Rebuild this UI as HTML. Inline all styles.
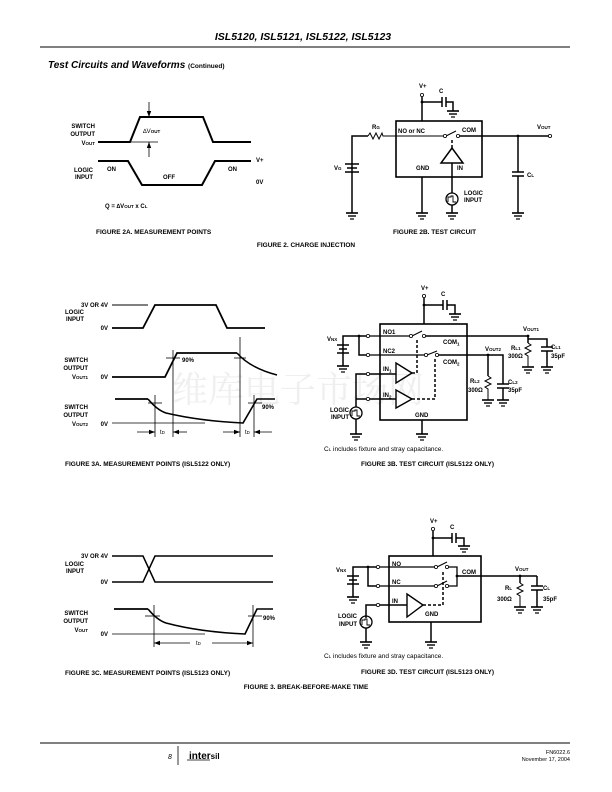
<!DOCTYPE html>
<html><head><meta charset="utf-8"><style>
html,body{margin:0;padding:0;background:#fff}
svg{display:block}
text{font-family:"Liberation Sans",Arial,sans-serif;font-weight:bold;font-size:6px;fill:#000}
.r{text-anchor:end}
.n{font-weight:normal}
.cap{font-size:6.5px}
</style></head><body>
<svg width="612" height="792" viewBox="0 0 612 792" xmlns="http://www.w3.org/2000/svg">
<defs>
<g id="gnd"><line x1="-6" y1="0" x2="6" y2="0" stroke="#000" stroke-width="1.6"/><line x1="-4" y1="3" x2="4" y2="3" stroke="#000" stroke-width="1.4"/><line x1="-2" y1="6" x2="2" y2="6" stroke="#000" stroke-width="1.2"/></g>
<marker id="ar" markerWidth="6" markerHeight="6" refX="6" refY="3" orient="auto" markerUnits="userSpaceOnUse"><path d="M0,0.8 L6,3 L0,5.2z" fill="#000"/></marker>
</defs>

<!-- watermark -->
<text x="172" y="402" style="font-family:'Noto Serif CJK SC','Liberation Serif',serif;font-weight:normal;font-size:36px;fill:#efefef">维库电子市场网</text>

<!-- header -->
<text x="303" y="40" text-anchor="middle" style="font-size:10.5px;font-style:italic">ISL5120, ISL5121, ISL5122, ISL5123</text>
<line x1="40" y1="47" x2="570" y2="47" stroke="#000" stroke-width="1"/>
<text x="48" y="68" style="font-size:10px;font-style:italic">Test Circuits and Waveforms <tspan style="font-size:6.5px;font-style:normal">(Continued)</tspan></text>

<g fill="none" stroke="#000">
<!-- FIG 2A -->
<polyline points="98,142 130,142 140,117 203,117 213,142 251,142" stroke-width="2"/>
<line x1="130" y1="142" x2="158" y2="142" stroke-width="0.8"/>
<line x1="149" y1="102" x2="149" y2="117" stroke-width="0.8" marker-end="url(#ar)"/>
<line x1="149" y1="157" x2="149" y2="142" stroke-width="0.8" marker-end="url(#ar)"/>
<polyline points="98,161 128,161 142,185 202,185 215,161 251,161" stroke-width="2"/>

<!-- FIG 2B -->
<rect x="396" y="121" width="86" height="56" stroke-width="1.6"/>
<line x1="422" y1="97" x2="422" y2="121" stroke-width="1.5"/>
<polyline points="422,102 442,102" stroke-width="1.5"/>
<line x1="442" y1="97" x2="442" y2="107" stroke-width="1.5"/><line x1="446" y1="97" x2="446" y2="107" stroke-width="1.5"/>
<polyline points="446,102 453,102 453,111" stroke-width="1.5"/>
<polyline points="352,213 352,136 368,136" stroke-width="1.5"/>
<polyline points="368,136 370,133 373,139 376,133 379,139 382,133 383,136 396,136" stroke-width="1"/>
<line x1="396" y1="136" x2="444" y2="136" stroke-width="1"/>
<line x1="446" y1="136" x2="456" y2="131" stroke-width="1"/>
<line x1="459" y1="136" x2="550" y2="136" stroke-width="1.5"/>
<line x1="452" y1="140" x2="452" y2="148" stroke-width="1.5" stroke-dasharray="3,2"/>
<polygon points="452,148 441,163 463,163" stroke-width="1.5"/>
<line x1="452" y1="163" x2="452" y2="193" stroke-width="1.5"/>
<line x1="452" y1="205" x2="452" y2="213" stroke-width="1.5"/>
<circle cx="452" cy="199" r="6" stroke-width="1.3"/>
<polyline points="448,202 448,197 451,197 451,196 453,196 453,202 456,202" stroke-width="0.9"/>
<line x1="422" y1="177" x2="422" y2="213" stroke-width="1.5"/>
<line x1="518" y1="136" x2="518" y2="172" stroke-width="1.5"/>
<line x1="518" y1="176" x2="518" y2="213" stroke-width="1.5"/>
<line x1="512" y1="172" x2="524" y2="172" stroke-width="1.5"/><line x1="512" y1="176" x2="524" y2="176" stroke-width="1.5"/>
<line x1="345" y1="164" x2="359" y2="164" stroke-width="1.5"/><line x1="347" y1="168" x2="357" y2="168" stroke-width="1.5"/><line x1="345" y1="172" x2="359" y2="172" stroke-width="1.5"/>

<!-- FIG 3A waveforms -->
<line x1="112" y1="305" x2="148" y2="305" stroke-width="1"/>
<polyline points="112,328 143,328 155,305 216,305 227,328 265,328" stroke-width="1.8"/>
<polyline points="112,377 165,377 177,353 237,353" stroke-width="1.8"/>
<path d="M237,353 Q250,368 277,375" stroke-width="1.5"/>
<line x1="173" y1="350" x2="173" y2="437" stroke-width="0.8"/>
<line x1="240" y1="337" x2="240" y2="437" stroke-width="0.8"/>
<line x1="166" y1="358" x2="180" y2="358" stroke-width="0.8"/>
<line x1="234" y1="358" x2="246" y2="358" stroke-width="0.8"/>
<polyline points="115,399 148,399" stroke-width="1.8"/>
<path d="M148,399 Q157,410 166,413 Q200,421 243,423 L257,399 L275,399" stroke-width="1.6"/>
<line x1="112" y1="423" x2="205" y2="423" stroke-width="0.8"/>
<line x1="155" y1="395" x2="155" y2="437" stroke-width="0.8"/>
<line x1="254" y1="395" x2="254" y2="437" stroke-width="0.8"/>
<line x1="148" y1="403" x2="162" y2="403" stroke-width="0.8"/>
<line x1="248" y1="403" x2="262" y2="403" stroke-width="0.8"/>
<line x1="137" y1="432" x2="155" y2="432" stroke-width="0.8" marker-end="url(#ar)"/>
<line x1="187" y1="432" x2="173" y2="432" stroke-width="0.8" marker-end="url(#ar)"/>
<line x1="223" y1="432" x2="240" y2="432" stroke-width="0.8" marker-end="url(#ar)"/>
<line x1="272" y1="432" x2="254" y2="432" stroke-width="0.8" marker-end="url(#ar)"/>

<!-- FIG 3B -->
<rect x="380" y="324" width="87" height="96" stroke-width="1.6"/>
<line x1="424" y1="298" x2="424" y2="324" stroke-width="1.5"/>
<line x1="424" y1="305" x2="443" y2="305" stroke-width="1.5"/>
<line x1="443" y1="300" x2="443" y2="310" stroke-width="1.5"/><line x1="447" y1="300" x2="447" y2="310" stroke-width="1.5"/>
<polyline points="447,305 455,305 455,314" stroke-width="1.5"/>
<polyline points="343,366 343,336 366,336" stroke-width="1.5"/>
<line x1="337" y1="345" x2="349" y2="345" stroke-width="1.5"/><line x1="339" y1="349" x2="347" y2="349" stroke-width="1.5"/><line x1="337" y1="353" x2="349" y2="353" stroke-width="1.5"/>
<polyline points="359,336 359,355 366,355" stroke-width="1.5"/>
<line x1="370" y1="336" x2="410" y2="336" stroke-width="1.3"/>
<line x1="412" y1="336" x2="422" y2="331" stroke-width="1"/>
<line x1="425" y1="336" x2="528" y2="336" stroke-width="1.5"/>
<line x1="370" y1="355" x2="425" y2="355" stroke-width="1.3"/>
<line x1="427" y1="355" x2="437" y2="351" stroke-width="1"/>
<polyline points="438,355 503,355 503,384" stroke-width="1.5"/>
<line x1="503" y1="388" x2="503" y2="400" stroke-width="1.5"/>
<line x1="497" y1="384" x2="509" y2="384" stroke-width="1.5"/><line x1="497" y1="388" x2="509" y2="388" stroke-width="1.5"/>
<line x1="488" y1="355" x2="488" y2="376" stroke-width="1.5"/>
<polyline points="488,376 491,378 485,381 491,384 485,387 488,389 488,400" stroke-width="1"/>
<line x1="528" y1="336" x2="528" y2="343" stroke-width="1.5"/>
<polyline points="528,343 531,345 525,348 531,351 525,354 528,356 528,367" stroke-width="1"/>
<polyline points="528,339 547,339 547,347" stroke-width="1.5"/>
<line x1="547" y1="351" x2="547" y2="367" stroke-width="1.5"/>
<line x1="541" y1="347" x2="553" y2="347" stroke-width="1.5"/><line x1="541" y1="351" x2="553" y2="351" stroke-width="1.5"/>
<polygon points="396,363 412,373 396,383" stroke-width="1.4"/>
<polygon points="396,390 412,399 396,408" stroke-width="1.4"/>
<polyline points="356,407 356,374 366,374" stroke-width="1.5"/>
<line x1="370" y1="374" x2="396" y2="374" stroke-width="1.5"/>
<line x1="356" y1="399" x2="366" y2="399" stroke-width="1.5"/>
<line x1="370" y1="399" x2="396" y2="399" stroke-width="1.5"/>
<line x1="356" y1="419" x2="356" y2="434" stroke-width="1.5"/>
<circle cx="356" cy="413" r="6" stroke-width="1.3"/>
<polyline points="352,416 352,411 355,411 355,410 357,410 357,416 360,416" stroke-width="0.9"/>
<polyline points="412,373 417,373 417,340" stroke-width="1.5" stroke-dasharray="3,2"/>
<polyline points="412,399 435,399 435,358" stroke-width="1.5" stroke-dasharray="3,2"/>
<line x1="422" y1="420" x2="422" y2="434" stroke-width="1.5"/>

<!-- FIG 3C -->
<polyline points="112,556 143,556 155,582 273,582" stroke-width="1.5"/>
<polyline points="112,582 143,582 155,556 273,556" stroke-width="1.5"/>
<line x1="114" y1="609" x2="148" y2="609" stroke-width="1.8"/>
<path d="M148,609 Q157,620 166,623 Q200,632 245,634 L257,609 L273,609" stroke-width="1.6"/>
<line x1="112" y1="634" x2="205" y2="634" stroke-width="0.8"/>
<line x1="154" y1="605" x2="154" y2="647" stroke-width="0.8"/>
<line x1="253" y1="605" x2="253" y2="647" stroke-width="0.8"/>
<line x1="145" y1="616" x2="160" y2="616" stroke-width="0.8"/>
<line x1="248" y1="616" x2="262" y2="616" stroke-width="0.8"/>
<line x1="190" y1="643" x2="154" y2="643" stroke-width="0.8" marker-end="url(#ar)"/>
<line x1="212" y1="643" x2="253" y2="643" stroke-width="0.8" marker-end="url(#ar)"/>

<!-- FIG 3D -->
<rect x="389" y="556" width="92" height="66" stroke-width="1.6"/>
<line x1="433" y1="531" x2="433" y2="556" stroke-width="1.5"/>
<line x1="433" y1="538" x2="452" y2="538" stroke-width="1.5"/>
<line x1="452" y1="533" x2="452" y2="543" stroke-width="1.5"/><line x1="456" y1="533" x2="456" y2="543" stroke-width="1.5"/>
<polyline points="456,538 464,538 464,546" stroke-width="1.5"/>
<polyline points="353,597 353,567 376,567" stroke-width="1.5"/>
<line x1="347" y1="576" x2="359" y2="576" stroke-width="1.5"/><line x1="349" y1="580" x2="357" y2="580" stroke-width="1.5"/><line x1="347" y1="584" x2="359" y2="584" stroke-width="1.5"/>
<polyline points="368,567 368,586 376,586" stroke-width="1.5"/>
<line x1="380" y1="567" x2="435" y2="567" stroke-width="1.3"/>
<line x1="380" y1="586" x2="435" y2="586" stroke-width="1.3"/>
<line x1="437" y1="567" x2="447" y2="562" stroke-width="1"/>
<line x1="437" y1="586" x2="447" y2="581" stroke-width="1"/>
<polyline points="448,567 457,567 457,586 448,586" stroke-width="1.3"/>
<line x1="457" y1="576" x2="537" y2="576" stroke-width="1.5"/>
<line x1="537" y1="576" x2="537" y2="586" stroke-width="1.5"/>
<line x1="531" y1="586" x2="543" y2="586" stroke-width="1.5"/><line x1="531" y1="590" x2="543" y2="590" stroke-width="1.5"/>
<line x1="537" y1="590" x2="537" y2="607" stroke-width="1.5"/>
<line x1="520" y1="576" x2="520" y2="583" stroke-width="1.5"/>
<polyline points="520,583 523,585 517,588 523,591 517,594 520,596 520,607" stroke-width="1"/>
<polygon points="407,594 423,605 407,617" stroke-width="1.4"/>
<polyline points="366,618 366,605 376,605" stroke-width="1.5"/>
<line x1="380" y1="605" x2="407" y2="605" stroke-width="1.5"/>
<line x1="366" y1="628" x2="366" y2="642" stroke-width="1.5"/>
<circle cx="366" cy="622" r="6" stroke-width="1.3"/>
<polyline points="362,625 362,620 365,620 365,619 367,619 367,625 370,625" stroke-width="0.9"/>
<polyline points="423,605 443,605 443,572" stroke-width="1.5" stroke-dasharray="3,2"/>
<line x1="431" y1="622" x2="431" y2="642" stroke-width="1.5"/>

<!-- footer -->
<line x1="40" y1="743" x2="570" y2="743" stroke-width="1"/>
<line x1="178" y1="746" x2="178" y2="765" stroke-width="0.8"/>
<line x1="187" y1="760" x2="210" y2="760" stroke-width="0.8"/>
</g>

<!-- small circles -->
<g fill="#fff" stroke="#000" stroke-width="0.8">
<circle cx="422" cy="95" r="1.6"/><circle cx="445" cy="136" r="1.6"/><circle cx="458" cy="136" r="1.6"/><circle cx="550" cy="136" r="1.6"/>
<circle cx="424" cy="296" r="1.6"/><circle cx="368" cy="336" r="1.6"/><circle cx="368" cy="355" r="1.6"/><circle cx="411" cy="336" r="1.6"/><circle cx="424" cy="336" r="1.6"/><circle cx="426" cy="355" r="1.6"/><circle cx="437" cy="355" r="1.6"/><circle cx="368" cy="374" r="1.6"/><circle cx="368" cy="399" r="1.6"/>
<circle cx="433" cy="529" r="1.6"/><circle cx="378" cy="567" r="1.6"/><circle cx="378" cy="586" r="1.6"/><circle cx="436" cy="567" r="1.6"/><circle cx="447" cy="567" r="1.6"/><circle cx="436" cy="586" r="1.6"/><circle cx="447" cy="586" r="1.6"/><circle cx="378" cy="605" r="1.6"/>
</g>
<g fill="#000">
<circle cx="422" cy="102" r="1.4"/><circle cx="518" cy="136" r="1.4"/>
<circle cx="424" cy="305" r="1.4"/><circle cx="359" cy="336" r="1.4"/><circle cx="528" cy="336" r="1.4"/><circle cx="488" cy="355" r="1.4"/>
<circle cx="433" cy="538" r="1.4"/><circle cx="368" cy="567" r="1.4"/><circle cx="520" cy="576" r="1.4"/><circle cx="457" cy="576" r="1.4"/>
</g>

<!-- grounds -->
<use href="#gnd" x="453" y="111"/><use href="#gnd" x="352" y="213"/><use href="#gnd" x="422" y="213"/><use href="#gnd" x="452" y="213"/><use href="#gnd" x="518" y="213"/>
<use href="#gnd" x="455" y="314"/><use href="#gnd" x="343" y="366"/><use href="#gnd" x="528" y="367"/><use href="#gnd" x="547" y="367"/><use href="#gnd" x="488" y="400"/><use href="#gnd" x="503" y="400"/><use href="#gnd" x="356" y="434"/><use href="#gnd" x="422" y="434"/>
<use href="#gnd" x="464" y="546"/><use href="#gnd" x="353" y="597"/><use href="#gnd" x="520" y="607"/><use href="#gnd" x="537" y="607"/><use href="#gnd" x="366" y="642"/><use href="#gnd" x="431" y="642"/>

<!-- FIG 2A text -->
<text class="r" x="95" y="128">SWITCH</text>
<text class="r" x="95" y="136">OUTPUT</text>
<text class="r" x="95" y="145">V<tspan font-size="4.5">OUT</tspan></text>
<text x="143" y="133" class="n">∆V<tspan font-size="4.5" font-weight="bold">OUT</tspan></text>
<text class="r" x="93" y="172">LOGIC</text>
<text class="r" x="93" y="179">INPUT</text>
<text x="107" y="171">ON</text><text x="163" y="179">OFF</text><text x="228" y="171">ON</text>
<text x="256" y="162">V+</text><text x="256" y="184">0V</text>
<text x="105" y="208">Q = ∆V<tspan font-size="4.5">OUT</tspan> x C<tspan font-size="4.5">L</tspan></text>
<text x="96" y="234" class="cap">FIGURE 2A.  MEASUREMENT POINTS</text>
<text x="393" y="234" class="cap">FIGURE 2B.  TEST CIRCUIT</text>
<text x="306" y="247" class="cap" text-anchor="middle">FIGURE 2.  CHARGE INJECTION</text>

<!-- FIG 2B text -->
<text x="419" y="88">V+</text><text x="439" y="93">C</text>
<text x="372" y="129">R<tspan font-size="4.5">G</tspan></text>
<text x="398" y="133">NO or NC</text><text x="462" y="132">COM</text>
<text x="416" y="170">GND</text><text x="457" y="170">IN</text>
<text x="464" y="195">LOGIC</text><text x="464" y="202">INPUT</text>
<text x="334" y="170">V<tspan font-size="4.5">G</tspan></text>
<text x="537" y="129">V<tspan font-size="4.5">OUT</tspan></text>
<text x="527" y="177">C<tspan font-size="4.5">L</tspan></text>

<!-- FIG 3A text -->
<text class="r" x="108" y="307">3V OR 4V</text>
<text class="r" x="84" y="314">LOGIC</text><text class="r" x="84" y="321">INPUT</text>
<text class="r" x="108" y="330">0V</text>
<text class="r" x="88" y="362">SWITCH</text><text class="r" x="88" y="370">OUTPUT</text><text class="r" x="88" y="379">V<tspan font-size="4.5">OUT1</tspan></text>
<text class="r" x="108" y="379">0V</text>
<text x="182" y="362">90%</text>
<text class="r" x="88" y="409">SWITCH</text><text class="r" x="88" y="417">OUTPUT</text><text class="r" x="88" y="426">V<tspan font-size="4.5">OUT2</tspan></text>
<text class="r" x="108" y="426">0V</text>
<text x="262" y="409">90%</text>
<text x="160" y="434" class="n">t<tspan font-size="4.5">D</tspan></text>
<text x="245" y="434" class="n">t<tspan font-size="4.5">D</tspan></text>
<text x="65" y="466" class="cap">FIGURE 3A.  MEASUREMENT POINTS (ISL5122 ONLY)</text>

<!-- FIG 3B text -->
<text x="421" y="290">V+</text><text x="441" y="296">C</text>
<text x="327" y="341">V<tspan font-size="4.5">NX</tspan></text>
<text x="383" y="334">NO1</text><text x="383" y="353">NC2</text>
<text x="443" y="344">COM<tspan font-size="4.5" dy="1.5">1</tspan></text>
<text x="443" y="364">COM<tspan font-size="4.5" dy="1.5">2</tspan></text>
<text x="383" y="371">IN<tspan font-size="4.5" dy="1.5">1</tspan></text>
<text x="383" y="397">IN<tspan font-size="4.5" dy="1.5">2</tspan></text>
<text x="415" y="417">GND</text>
<text class="r" x="349" y="412">LOGIC</text><text class="r" x="349" y="419">INPUT</text>
<text x="523" y="331">V<tspan font-size="4.5">OUT1</tspan></text>
<text x="485" y="351">V<tspan font-size="4.5">OUT2</tspan></text>
<text x="511" y="350">R<tspan font-size="4.5">L1</tspan></text><text x="508" y="358">300Ω</text>
<text x="551" y="349">C<tspan font-size="4.5">L1</tspan></text><text x="551" y="358">35pF</text>
<text x="470" y="383">R<tspan font-size="4.5">L2</tspan></text><text x="468" y="392">300Ω</text>
<text x="508" y="384">C<tspan font-size="4.5">L2</tspan></text><text x="508" y="392">35pF</text>
<text x="324" y="451" class="n" style="font-size:6.5px">C<tspan font-size="4.5">L</tspan> includes fixture and stray capacitance.</text>
<text x="361" y="466" class="cap">FIGURE 3B.  TEST CIRCUIT (ISL5122 ONLY)</text>

<!-- FIG 3C text -->
<text class="r" x="108" y="558">3V OR 4V</text>
<text class="r" x="84" y="566">LOGIC</text><text class="r" x="84" y="573">INPUT</text>
<text class="r" x="108" y="584">0V</text>
<text class="r" x="88" y="615">SWITCH</text><text class="r" x="88" y="623">OUTPUT</text><text class="r" x="88" y="632">V<tspan font-size="4.5">OUT</tspan></text>
<text class="r" x="108" y="636">0V</text>
<text x="263" y="620">90%</text>
<text x="196" y="645" class="n">t<tspan font-size="4.5">D</tspan></text>
<text x="65" y="675" class="cap">FIGURE 3C.  MEASUREMENT POINTS (ISL5123 ONLY)</text>
<text x="306" y="689" class="cap" text-anchor="middle">FIGURE 3.  BREAK-BEFORE-MAKE TIME</text>

<!-- FIG 3D text -->
<text x="430" y="523">V+</text><text x="450" y="529">C</text>
<text x="336" y="572">V<tspan font-size="4.5">NX</tspan></text>
<text x="392" y="566">NO</text><text x="392" y="584">NC</text>
<text x="462" y="574">COM</text>
<text x="392" y="603">IN</text>
<text x="425" y="616">GND</text>
<text class="r" x="357" y="618">LOGIC</text><text class="r" x="357" y="626">INPUT</text>
<text x="515" y="571">V<tspan font-size="4.5">OUT</tspan></text>
<text x="505" y="590">R<tspan font-size="4.5">L</tspan></text><text x="497" y="601">300Ω</text>
<text x="543" y="590">C<tspan font-size="4.5">L</tspan></text><text x="543" y="601">35pF</text>
<text x="324" y="658" class="n" style="font-size:6.5px">C<tspan font-size="4.5">L</tspan> includes fixture and stray capacitance.</text>
<text x="361" y="674" class="cap">FIGURE 3D.  TEST CIRCUIT (ISL5123 ONLY)</text>

<!-- footer text -->
<text x="168" y="759" class="n" style="font-size:7px;font-style:italic">8</text>
<text x="189" y="759" style="font-size:10px">inter<tspan font-size="8">sil</tspan></text>
<text class="r n" x="570" y="754" style="font-size:5.5px">FN6022.6</text>
<text class="r n" x="570" y="761" style="font-size:5.5px">November 17, 2004</text>
</svg>
</body></html>
